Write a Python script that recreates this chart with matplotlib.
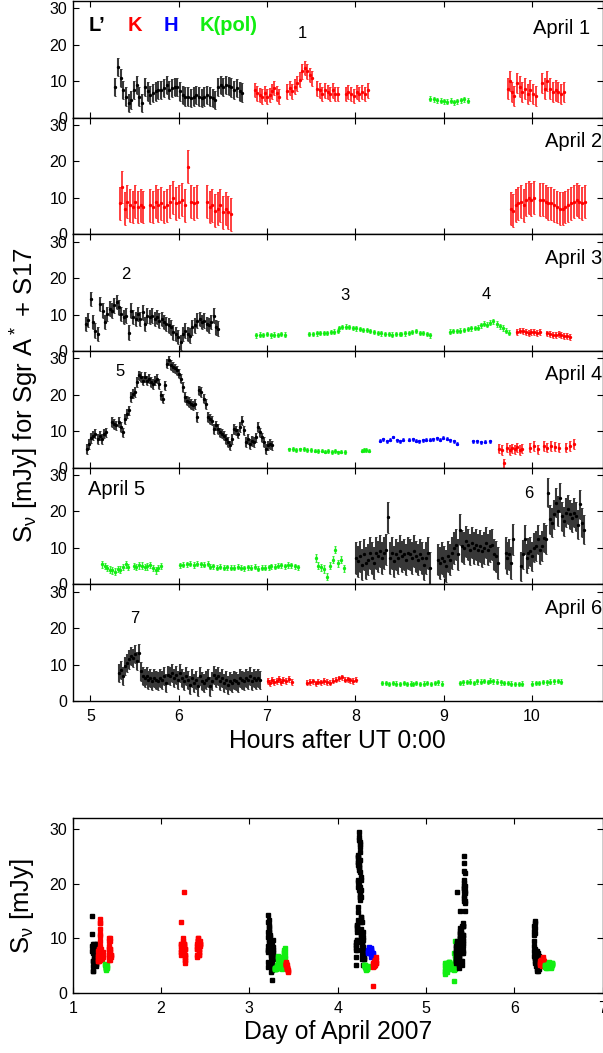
import numpy as np
import matplotlib.pyplot as plt

plt.rcParams['font.family'] = ['Liberation Sans', 'DejaVu Sans']
plt.rcParams['mathtext.default'] = 'regular'

# light curves, values in mJy (segment = start hour, end hour, values)
# April 1
a1_L = [8.5, 14.0, 10.8, 7.6, 5.8, 4.0, 4.9, 7.6, 9.0, 5.8, 4.0, 8.5, 7.2, 6.2, 6.7, 7.2,
        7.6, 7.6, 8.1, 9.0, 7.6, 8.1, 8.5, 8.5, 7.2, 6.2, 5.8, 5.8, 5.3, 5.8, 6.2, 5.8,
        5.3, 5.8, 6.2, 5.8, 5.3, 4.9, 8.5, 9.0, 8.5, 9.0, 8.7, 8.3, 7.6, 8.1, 7.2, 6.9]
a1_K1 = [7.6, 6.7, 6.2, 5.8, 6.7, 5.8, 6.2, 7.2, 8.1, 6.7, 5.8]
a1_K2 = [7.2, 8.1, 7.2, 8.5, 9.4, 10.4, 12.7, 13.6, 12.7, 11.7, 10.8]
a1_K3 = [8.0, 7.5, 6.5, 7.5, 7.0, 6.5, 7.5, 6.5, 6.5]
a1_K4 = [6.5, 7.0, 6.5, 6.0, 7.0, 6.5, 7.0, 6.5, 7.5]
a1_P = [5.2, 5.0, 4.8, 4.6, 4.5, 4.4, 4.7, 4.2, 4.5, 4.8, 5.0, 4.6]
a1_K5 = [8.0, 10.0, 7.0, 6.0]
a1_K6 = [9.5, 8.5, 7.0, 8.0, 6.5, 7.5, 6.5, 6.0]
a1_K7 = [9.5, 8.0, 10.0, 8.0, 7.0, 7.5, 7.0, 6.5, 7.0]
# April 2
a2_K1 = [8.5, 13.0, 7.0, 9.0, 8.0, 7.5, 9.0, 7.5, 8.0, 7.5]
a2_K2 = [8.0, 7.5, 9.0, 8.0, 8.5, 7.5, 8.0, 9.0, 10.0, 8.5, 9.0, 9.5, 8.0, 18.5, 9.0, 8.5, 9.0]
a2_K3 = [9.0, 7.5, 8.0, 6.5, 7.0, 8.0, 6.0, 7.0, 6.0, 5.5]
a2_K4 = [7.0, 6.5, 8.0, 8.5, 9.0, 8.0, 9.5, 10.0, 9.5, 10.0]
a2_K5 = [9.5, 9.5, 9.0, 8.5, 8.5, 8.0, 7.5, 7.0, 7.0, 7.5, 8.0, 8.5, 9.0, 9.5, 9.0, 8.5, 9.0]
# April 3
a3_L = [7.4, 8.5, 14.3, 7.9, 5.6, 4.7, 12.9, 11.1, 7.9, 10.2, 11.6, 11.1, 12.5, 13.4, 12.0,
        10.2, 9.3, 9.7, 5.0, 11.1, 9.3, 8.8, 10.2, 8.8, 10.6, 7.4, 9.7, 9.3, 9.7, 8.8, 9.3,
        8.3, 8.8, 7.9, 7.4, 7.0, 6.5, 5.1, 4.7, 3.8, 2.4, 4.7, 5.6, 4.7, 4.2, 6.5, 7.0, 8.3,
        8.8, 7.9, 8.3, 7.4, 7.0, 7.9, 9.7, 6.5, 6.1]
a3_P1 = [4.3, 4.5, 4.4, 4.6, 4.3, 4.5, 4.4, 4.6, 4.5]
a3_P2 = [4.6, 4.7, 4.8, 4.9, 5.0, 5.0, 5.2, 5.3, 5.5]
a3_P3 = [6.2, 6.5, 6.7, 6.6, 6.3, 6.2, 6.0, 5.8, 5.7]
a3_P4 = [5.5, 5.2, 5.0, 4.8, 4.7, 4.6, 4.5, 4.7, 4.6]
a3_P5 = [4.6, 4.8, 5.0, 5.2, 5.4, 5.0, 4.9, 4.6, 4.3]
a3_P6 = [5.3, 5.5, 5.4, 5.6, 5.8, 6.0, 6.2, 6.3, 6.4]
a3_P7 = [7.0, 7.5, 7.2, 7.8, 8.2, 7.4, 6.8, 6.3, 5.5, 5.0]
a3_K1 = [5.3, 5.6, 5.4, 5.2, 5.0, 5.1, 5.2, 5.0, 5.1]
a3_K2 = [4.8, 4.6, 4.5, 4.3, 4.6, 4.4, 4.2, 4.0, 3.8]
# April 4
a4_L1 = [5.1, 6.5, 8.2, 8.8, 9.3, 7.9, 8.8, 7.9, 9.3, 9.7]
a4_L2 = [12.5, 12.0, 11.6, 12.5, 11.1, 9.7, 13.4, 14.8, 15.7, 19.4, 20.3, 20.7, 23.5, 25.3,
         24.9, 23.9, 24.9, 23.9, 24.4, 23.5, 23.0, 23.9, 24.4, 23.0, 19.8, 18.9, 22.6, 28.5,
         29.4, 28.1, 27.6, 27.2, 26.7, 25.8, 24.4, 22.1, 19.4, 18.4, 18.0, 17.5, 17.1, 17.5,
         13.9, 21.2, 20.7, 18.9, 17.5, 13.9, 13.4, 12.9, 10.6, 11.6, 10.6, 9.7, 9.3, 8.8, 7.9,
         7.0, 6.1, 7.9, 10.6, 10.2, 9.3, 11.1, 12.9, 10.2, 7.0, 7.9, 6.5, 7.3, 7.0, 8.3, 11.1,
         9.7, 8.3, 7.0, 5.1, 6.1, 6.5, 6.1]
a4_P1 = [5.0, 5.1, 4.9, 5.0, 5.1, 4.8, 4.9, 4.7]
a4_P2 = [4.5, 4.7, 4.4, 4.5, 4.3, 4.6, 4.2, 4.4, 4.3]
a4_P3 = [4.7, 4.9, 4.8, 4.7]
a4_H1 = [7.4, 7.8, 7.2, 7.6, 8.4, 7.5, 7.3, 7.7]
a4_H2 = [7.6, 7.8, 7.4, 7.3, 7.5, 7.6, 7.7, 7.8, 8.0, 7.6, 8.2, 7.9, 7.5, 7.2, 6.6]
a4_H3 = [7.3, 7.2, 7.0, 7.1, 7.2]
a4_K1 = [5.2, 4.8, 1.2, 5.5, 4.9, 5.3, 5.0, 5.6, 4.9, 5.2]
a4_K2 = [5.5, 6.0, 5.0]
a4_K3 = [6.0, 5.5, 6.0, 5.8, 5.5]
a4_K4 = [5.5, 6.0, 6.5]
# April 5
a5_P1 = [5.5, 5.0, 4.5, 4.0, 3.8, 3.5, 4.2, 4.0, 4.8, 5.5, 4.8]
a5_P2 = [5.0, 4.8, 5.2, 5.1, 4.7, 4.9, 5.3, 4.5, 3.8, 4.5, 5.0]
a5_P3 = [5.2, 5.4, 5.5, 5.6, 5.3, 5.7, 5.5, 5.4, 5.6]
a5_P4 = [4.8, 5.0, 4.6, 4.8, 4.5, 4.7, 4.6, 4.5, 4.8]
a5_P5 = [4.6, 4.4, 4.7, 4.5, 4.8, 4.3, 4.6, 4.5, 4.7]
a5_P6 = [5.0, 4.8, 5.1, 5.2, 5.0, 5.3, 5.2, 5.0, 4.7]
a5_P7 = [7.2, 5.1, 4.7, 4.2, 2.1, 5.1, 6.8, 9.5, 5.8, 6.8, 4.4]
a5_L1 = [7.2, 6.3, 7.7, 5.4, 8.2, 5.9, 6.8, 8.6, 7.2, 5.9, 8.6, 7.7, 9.1, 7.2, 8.6, 9.5,
         18.4, 7.2, 8.6, 6.3, 8.2, 7.2, 9.1, 7.7, 8.2, 6.8, 8.6, 8.2, 7.2, 9.1, 7.7, 6.8,
         8.2, 7.2, 5.4, 7.2, 8.6, 4.5]
a5_L2 = [6.8, 5.9, 7.2, 6.3, 5.0, 7.7, 6.8, 8.6, 10.0, 10.9, 8.2, 15.0, 10.5, 10.0, 11.8,
         10.9, 9.5, 11.4, 10.0, 10.9, 9.5, 10.5, 9.1, 10.0, 11.4, 9.5, 10.5, 10.9, 8.2, 7.7, 5.9]
a5_L3 = [8.6, 7.2, 8.2, 5.9, 12.3]
a5_L4 = [5.0, 8.2, 12.3, 7.2, 8.6, 9.1, 7.7, 10.0, 10.5, 12.3, 9.5, 10.5, 12.8, 12.3, 25.1,
         17.8, 16.9, 19.2, 22.4, 20.1, 23.8, 18.7, 17.3, 19.6, 20.6, 19.2, 18.3, 19.6, 18.7,
         16.4, 21.9, 16.9, 15.0]
# April 6
a6_L = [7.7, 8.6, 6.8, 9.5, 10.5, 11.4, 12.3, 11.9, 12.8, 10.9, 13.2, 8.1, 6.8, 6.3, 6.8,
        5.8, 6.3, 5.4, 6.3, 5.8, 5.4, 6.3, 5.8, 6.8, 4.9, 7.2, 6.8, 7.7, 6.3, 7.2, 5.8, 7.7,
        6.3, 5.4, 6.8, 5.8, 4.4, 6.3, 4.9, 5.8, 4.0, 6.8, 5.4, 4.9, 5.8, 6.3, 4.0, 5.4, 7.2,
        6.3, 6.8, 5.4, 6.3, 4.9, 5.8, 4.4, 5.4, 4.9, 5.8, 5.4, 4.9, 6.3, 5.8, 5.4, 6.3, 5.8,
        6.8, 5.4, 6.3, 5.8, 6.3, 5.8]
a6_K1 = [5.5, 5.0, 5.8, 5.3]
a6_K2 = [5.6, 6.0, 5.2, 5.7]
a6_K3 = [5.5, 6.0, 5.2]
a6_K4 = [5.0, 5.2, 5.4, 4.9, 5.3, 5.1, 5.5, 5.2, 5.0, 5.6, 5.8, 6.2, 6.5, 5.8, 6.0, 5.7, 5.5, 5.8]
a6_P1 = [5.0, 4.9, 4.7, 5.0, 4.8, 4.6, 4.9, 4.7, 4.8]
a6_P2 = [4.7, 4.9, 4.6, 4.8, 5.0, 4.7, 4.9, 5.1, 4.8]
a6_P3 = [4.9, 5.1, 5.2, 5.3, 5.0, 5.4, 5.3, 5.5, 5.2]
a6_P4 = [5.6, 5.4, 5.3, 5.1, 5.0, 4.9, 4.8, 4.7, 4.6, 4.8]
a6_P5 = [4.8, 4.9, 5.0, 5.2, 5.1, 5.3, 5.4, 5.5, 5.3]

# (day, band, start hour, end hour, values, error)
segments = [
    (1, 'L', 5.28, 6.72, a1_L, 2.5), (1, 'K', 6.86, 7.14, a1_K1, 2.0), (1, 'K', 7.23, 7.51, a1_K2, 2.0),
    (1, 'K', 7.57, 7.80, a1_K3, 2.0), (1, 'K', 7.89, 8.14, a1_K4, 2.0), (1, 'P', 8.85, 9.27, a1_P, 0.7),
    (1, 'K', 9.73, 9.80, a1_K5, 2.8), (1, 'K', 9.83, 10.04, a1_K6, 2.8), (1, 'K', 10.11, 10.36, a1_K7, 2.8),
    (2, 'K', 5.33, 5.60, a2_K1, 4.5), (2, 'K', 5.67, 6.21, a2_K2, 4.5), (2, 'K', 6.32, 6.59, a2_K3, 4.5),
    (2, 'K', 9.76, 10.02, a2_K4, 4.5), (2, 'K', 10.09, 10.60, a2_K5, 4.5),
    (3, 'L', 4.95, 6.45, a3_L, 2.0), (3, 'P', 6.88, 7.20, a3_P1, 0.6), (3, 'P', 7.48, 7.80, a3_P2, 0.6),
    (3, 'P', 7.81, 8.13, a3_P3, 0.6), (3, 'P', 8.17, 8.50, a3_P4, 0.6), (3, 'P', 8.52, 8.85, a3_P5, 0.6),
    (3, 'P', 9.07, 9.39, a3_P6, 0.6), (3, 'P', 9.42, 9.74, a3_P7, 0.7), (3, 'K', 9.83, 10.09, a3_K1, 0.8),
    (3, 'K', 10.17, 10.43, a3_K2, 0.8),
    (4, 'L', 4.96, 5.18, a4_L1, 1.3), (4, 'L', 5.25, 7.06, a4_L2, 1.3), (4, 'P', 7.25, 7.54, a4_P1, 0.5),
    (4, 'P', 7.58, 7.88, a4_P2, 0.5), (4, 'P', 8.07, 8.15, a4_P3, 0.5), (4, 'H', 8.28, 8.54, a4_H1, 0.4),
    (4, 'H', 8.61, 9.15, a4_H2, 0.4), (4, 'H', 9.33, 9.52, a4_H3, 0.4), (4, 'K', 9.63, 9.89, a4_K1, 1.3),
    (4, 'K', 9.98, 10.07, a4_K2, 1.3), (4, 'K', 10.13, 10.30, a4_K3, 1.3), (4, 'K', 10.39, 10.48, a4_K4, 1.3),
    (5, 'P', 5.13, 5.43, a5_P1, 0.9), (5, 'P', 5.49, 5.80, a5_P2, 0.9), (5, 'P', 6.01, 6.33, a5_P3, 0.7),
    (5, 'P', 6.35, 6.67, a5_P4, 0.7), (5, 'P', 6.70, 7.02, a5_P5, 0.7), (5, 'P', 7.05, 7.35, a5_P6, 0.7),
    (5, 'P', 7.55, 7.87, a5_P7, 1.0), (5, 'L', 8.01, 8.85, a5_L1, 4.3), (5, 'L', 8.94, 9.62, a5_L2, 4.3),
    (5, 'L', 9.70, 9.78, a5_L3, 4.3), (5, 'L', 9.87, 10.59, a5_L4, 4.0),
    (6, 'L', 5.32, 6.92, a6_L, 2.5), (6, 'K', 7.01, 7.08, a6_K1, 0.8), (6, 'K', 7.11, 7.18, a6_K2, 0.8),
    (6, 'K', 7.22, 7.28, a6_K3, 0.8), (6, 'K', 7.45, 8.01, a6_K4, 0.7), (6, 'P', 8.30, 8.63, a6_P1, 0.6),
    (6, 'P', 8.65, 8.98, a6_P2, 0.6), (6, 'P', 9.18, 9.50, a6_P3, 0.6), (6, 'P', 9.52, 9.89, a6_P4, 0.6),
    (6, 'P', 10.00, 10.33, a6_P5, 0.6),
]

flare_labels = ['1', '2', '3', '4', '5', '6', '7']
flare_day = [1, 3, 3, 3, 4, 5, 6]
flare_x = [7.40, 5.40, 7.88, 9.48, 5.34, 9.96, 5.50]
flare_y = [23.2, 21.0, 15.2, 15.6, 26.3, 25.0, 22.5]

band_names = ['L’', 'K', 'H', 'K(pol)']
band_keys = ['L', 'K', 'H', 'P']
band_x = [5.08, 5.50, 5.91, 6.56]

mcol = {'L': 'black', 'K': '#ff0000', 'H': '#0000ff', 'P': '#11ee11'}
ecol = {'L': '#383838', 'K': '#ff3030', 'H': '#3030ff', 'P': '#33f033'}
elw = {'L': 1.5, 'K': 1.3, 'H': 1.0, 'P': 1.0}

W, H = 603.0, 1053.0
fig = plt.figure(figsize=(W / 100, H / 100), dpi=100)


def rect(x0, y0, x1, y1):
    return [x0 / W, 1 - y1 / H, (x1 - x0) / W, (y1 - y0) / H]


def style(ax):
    ax.tick_params(direction='in', top=True, right=True, length=4, width=0.8,
                   labelsize=11.5, pad=4)
    for s in ax.spines.values():
        s.set_linewidth(1.0)


ph = 700.0 / 6
axes = []
for k in range(6):
    ax = fig.add_axes(rect(72.7, 1 + ph * k, 602.7, 1 + ph * (k + 1)))
    ax.set_xlim(4.8, 10.8)
    ax.set_ylim(0, 32)
    ax.set_xticks([5, 6, 7, 8, 9, 10])
    ax.set_yticks([0, 10, 20, 30])
    style(ax)
    if k < 5:
        ax.tick_params(labelbottom=False)
    else:
        ax.tick_params(axis='x', pad=6)
    axes.append(ax)

for day, band, t0, t1, vals, err in segments:
    t = np.linspace(t0, t1, len(vals))
    axes[day - 1].errorbar(t, vals, yerr=err, fmt='.', ms=2.8, color=mcol[band],
                           ecolor=ecol[band], elinewidth=elw[band], capsize=1.0,
                           capthick=0.7)

for i, ax in enumerate(axes):
    if i == 4:
        ax.text(4.97, 26, 'April 5', fontsize=14.5, ha='left', va='center')
    elif i == 0:
        ax.text(10.66, 24.5, 'April 1', fontsize=14.5, ha='right', va='center')
    else:
        ax.text(10.79, 25.5, 'April %d' % (i + 1), fontsize=14.5, ha='right', va='center')

for lab, d, x, y in zip(flare_labels, flare_day, flare_x, flare_y):
    axes[d - 1].text(x, y, lab, fontsize=12, ha='center', va='center')

for name, key, x in zip(band_names, band_keys, band_x):
    axes[0].text(x, 25.3, name, color=mcol[key], fontsize=14.5, fontweight='bold',
                 ha='center', va='center')

fig.text(25 / W, 1 - 395 / H, r'S$_\nu$ [mJy] for Sgr A$^*$ + S17', rotation=90,
         fontsize=18.5, ha='center', va='center')
fig.text(337.7 / W, 1 - 741 / H, 'Hours after UT 0:00', fontsize=17.8,
         ha='center', va='center')

# overview of all nights
axb = fig.add_axes(rect(72.7, 818.3, 602.7, 992.7))
axb.set_xlim(1, 7)
axb.set_ylim(0, 32)
axb.set_xticks([1, 2, 3, 4, 5, 6, 7])
axb.set_yticks([0, 10, 20, 30])
style(axb)
axb.tick_params(axis='x', pad=6)
for day, band, t0, t1, vals, err in segments:
    t = np.linspace(t0, t1, len(vals))
    axb.plot(day + t / 24.0, vals, 's', ms=2.3, color=mcol[band], mec=mcol[band])

fig.text(22 / W, 1 - 906 / H, r'S$_\nu$ [mJy]', rotation=90, fontsize=18.5,
         ha='center', va='center')
fig.text(337.7 / W, 1 - 1032 / H, 'Day of April 2007', fontsize=17.8,
         ha='center', va='center')

fig.savefig('out.png', dpi=100)
